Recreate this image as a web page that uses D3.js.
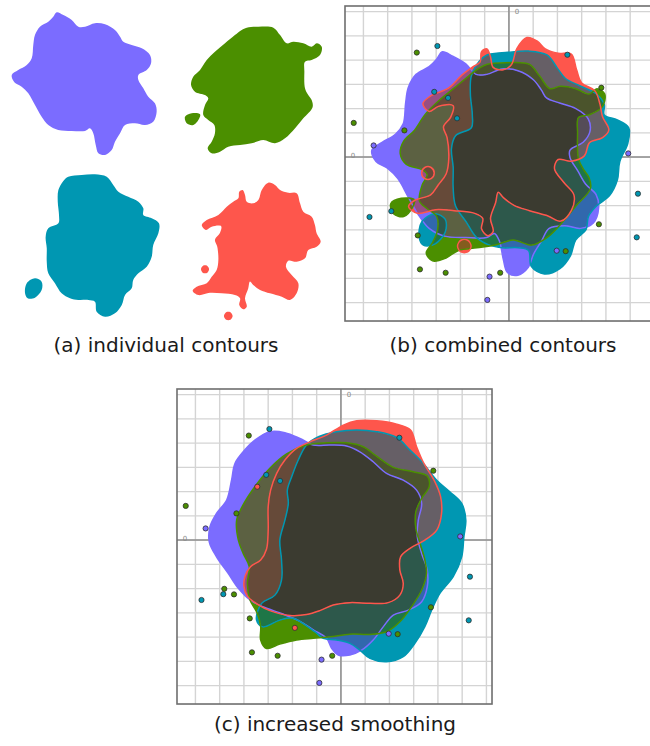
<!DOCTYPE html>
<html>
<head>
<meta charset="utf-8">
<script src="https://cdn.jsdelivr.net/npm/d3@7"></script>
<style>
  html, body { margin: 0; padding: 0; background: #fff; }
  svg { display: block; }
</style>
</head>
<body>
<svg id="fig" width="650" height="746"></svg>
<script>
// ---- groups --------------------------------------------------------------
const groupNames = ["purple", "teal", "green", "red"];
const groupColors = ["#7b6cff", "#0097b2", "#4b8f00", "#fe564c"];

// ---- density contours (grid units), one list of closed rings per group ---
const purpleContour = [[
  [-2.75,4.34],[-2.32,4.16],[-1.78,3.84],[-1.35,3.41],[-0.92,3.41],[-0.28,3.63],[0.37,3.56],
  [1.01,3.19],[1.34,2.76],[1.55,2.44],[2.09,2.23],[2.74,2.01],[3.27,1.58],[3.34,1.05],
  [3.06,0.61],[2.52,0.29],[2.52,-0.03],[2.84,-0.57],[3.16,-1.11],[3.59,-1.54],[3.70,-2.08],
  [3.48,-2.72],[2.95,-2.94],[2.30,-2.83],[1.66,-2.94],[1.34,-3.47],[1.01,-4.01],[0.80,-4.55],
  [0.37,-4.87],[-0.06,-4.76],[-0.23,-4.23],[-0.39,-3.47],[-0.60,-3.15],[-0.92,-3.32],
  [-1.78,-3.32],[-2.65,-3.26],[-3.29,-2.94],[-3.72,-2.40],[-4.15,-1.65],[-4.58,-0.89],
  [-5.01,-0.46],[-5.48,-0.18],[-5.65,0.29],[-5.23,0.61],[-4.68,0.94],[-4.36,1.37],
  [-4.26,2.23],[-4.15,2.87],[-3.83,3.41],[-3.29,3.73],[-2.97,4.05]
]];

const tealContour = [[
  [-0.91,4.21],[-0.05,4.32],[0.81,4.37],[1.57,4.21],[1.99,3.68],[2.32,3.25],[2.96,2.92],
  [3.61,2.60],[3.93,2.17],[3.93,1.74],[4.47,1.53],[4.94,1.21],[4.90,0.56],[4.57,-0.19],
  [4.47,-0.95],[4.15,-1.59],[3.61,-2.02],[3.28,-2.45],[3.18,-2.99],[2.75,-3.42],[2.54,-4.06],
  [2.10,-4.60],[1.46,-4.82],[0.92,-4.50],[0.81,-3.85],[0.38,-3.74],[-0.26,-3.74],[-0.80,-3.63],
  [-1.34,-3.31],[-1.77,-2.66],[-2.20,-2.02],[-2.30,-1.27],[-2.30,-0.41],[-2.37,0.34],
  [-2.20,0.88],[-1.55,1.21],[-1.51,1.74],[-1.59,2.60],[-1.55,3.35],[-1.23,3.94]
], [
  [-3.70,-3.31],[-3.59,-2.66],[-3.06,-2.34],[-2.63,-2.56],[-2.63,-3.10],[-3.06,-3.59],[-3.53,-3.63]
]];

const greenContour = [[
  [-0.89,3.83],[-0.14,3.89],[0.83,3.83],[1.26,3.35],[1.69,2.82],[2.12,2.92],[2.76,2.82],
  [3.30,2.60],[3.63,2.82],[3.95,2.60],[3.84,2.06],[3.30,1.74],[2.87,1.63],[2.83,0.99],
  [2.87,-0.08],[3.08,-0.52],[3.30,-0.84],[3.36,-1.30],[2.76,-2.02],[2.23,-2.66],[1.58,-3.31],
  [0.94,-3.63],[0.18,-3.42],[-0.57,-3.63],[-1.32,-3.74],[-2.08,-3.85],[-2.61,-4.17],
  [-3.15,-4.28],[-3.41,-3.95],[-3.15,-3.53],[-2.94,-2.99],[-2.98,-2.45],[-3.37,-2.13],
  [-3.69,-1.81],[-3.58,-1.16],[-3.37,-0.73],[-3.58,-0.52],[-4.23,-0.30],[-4.48,0.13],
  [-4.34,0.66],[-3.90,1.10],[-3.47,1.74],[-2.94,2.28],[-2.29,2.82],[-1.65,3.35],[-1.21,3.68]
], [
  [-4.87,-1.92],[-4.44,-1.70],[-3.90,-1.76],[-3.97,-2.06],[-4.34,-2.45],[-4.76,-2.34]
]];

const redContour = [[
  [0.74,4.93],[1.17,4.78],[1.50,4.46],[2.03,4.28],[2.57,4.25],[2.79,3.60],[3.00,3.06],
  [3.54,2.74],[3.75,2.20],[3.86,1.66],[4.12,1.12],[3.86,0.80],[3.32,0.59],[3.11,0.05],
  [2.57,-0.17],[2.03,-0.10],[1.88,-0.49],[2.25,-1.03],[2.68,-1.56],[2.57,-2.21],[2.14,-2.64],
  [1.61,-2.43],[0.85,-2.21],[0.21,-1.99],[-0.23,-1.67],[-0.44,-1.45],[-0.55,-1.88],
  [-0.76,-2.53],[-0.65,-3.07],[-0.87,-3.24],[-1.13,-2.96],[-1.08,-2.53],[-1.41,-2.32],
  [-2.26,-2.21],[-3.02,-2.17],[-3.77,-2.32],[-4.14,-2.04],[-3.88,-1.78],[-3.23,-1.56],
  [-2.91,-1.14],[-2.59,-0.70],[-2.48,-0.06],[-2.55,0.80],[-2.70,1.25],[-2.40,1.65],
  [-2.30,2.12],[-2.91,2.09],[-3.28,1.88],[-3.55,2.20],[-3.23,2.52],[-2.48,2.85],[-1.94,3.38],
  [-1.52,3.70],[-1.19,3.92],[-1.13,4.35],[-0.91,4.46],[-0.76,4.14],[-0.65,3.70],[-0.23,3.60],
  [0.10,3.81],[0.32,4.46]
], [
  [-3.08,-0.66],[-3.21,-0.43],[-3.47,-0.43],[-3.60,-0.66],[-3.47,-0.89],[-3.21,-0.89]
], [
  [-1.56,-3.67],[-1.70,-3.43],[-1.98,-3.43],[-2.12,-3.67],[-1.98,-3.91],[-1.70,-3.91]
]];

// ---- contours with a wider smoothing bandwidth -----------------------------
const purpleSmooth = [[
  [-2.93,4.47],[-2.31,4.43],[-1.69,4.19],[-1.14,3.92],[-0.45,3.92],[0.23,3.88],[0.78,3.64],
  [1.33,3.23],[1.88,2.75],[2.57,2.47],[3.12,2.06],[3.33,1.51],[3.19,0.82],[3.15,0.14],
  [3.33,-0.55],[3.56,-1.24],[3.56,-1.92],[3.33,-2.54],[2.78,-2.89],[2.16,-3.09],[1.75,-3.57],
  [1.33,-4.12],[0.85,-4.54],[0.37,-4.74],[-0.11,-4.74],[-0.38,-4.47],[-0.59,-4.05],
  [-1.14,-3.70],[-1.69,-3.35],[-2.39,-3.05],[-3.22,-2.75],[-3.75,-2.47],[-4.23,-1.99],
  [-4.65,-1.37],[-5.13,-0.69],[-5.43,-0.07],[-5.40,0.55],[-5.13,1.10],[-4.71,1.65],
  [-4.51,2.47],[-4.37,3.16],[-3.97,3.71],[-3.55,4.12]
]];

const tealSmooth = [[
  [-1.42,3.92],[-0.93,4.26],[-0.18,4.47],[0.65,4.54],[1.47,4.47],[2.30,4.23],[2.85,3.71],
  [3.40,3.16],[3.95,2.47],[4.49,1.99],[4.98,1.51],[5.15,0.82],[5.07,0.14],[4.98,-0.69],
  [4.63,-1.51],[4.08,-2.20],[3.74,-2.89],[3.46,-3.57],[3.05,-4.26],[2.57,-4.81],[1.88,-5.02],
  [1.20,-4.88],[0.78,-4.54],[0.37,-4.26],[-0.18,-4.12],[-0.73,-4.05],[-1.05,-3.80],
  [-1.98,-3.22],[-2.52,-3.30],[-3.22,-3.58],[-3.48,-3.30],[-3.27,-2.61],[-2.72,-2.27],
  [-2.45,-1.65],[-2.45,-0.82],[-2.52,0.00],[-2.31,0.82],[-2.17,1.51],[-2.21,2.06],
  [-2.03,2.61],[-1.76,3.30]
]];

const greenSmooth = [[
  [-2.24,3.55],[-1.42,3.92],[-0.59,4.01],[0.23,4.01],[0.92,3.85],[1.47,3.46],[2.16,3.00],
  [2.98,2.82],[3.56,2.64],[3.64,2.20],[3.33,1.72],[3.09,1.17],[3.09,0.48],[3.29,-0.21],
  [3.46,-0.82],[3.53,-1.37],[3.33,-2.06],[2.91,-2.75],[2.43,-3.37],[1.88,-3.78],[1.20,-3.89],
  [0.37,-3.88],[-0.45,-3.99],[-1.14,-4.05],[-1.83,-4.12],[-2.52,-4.29],[-3.07,-4.47],
  [-3.31,-4.12],[-3.31,-3.57],[-3.45,-3.02],[-3.75,-2.47],[-3.86,-1.79],[-3.78,-1.10],
  [-4.03,-0.55],[-4.23,0.00],[-4.30,0.82],[-4.00,1.51],[-3.55,2.20],[-2.93,2.96]
]];

const redSmooth = [[
  [0.10,4.74],[0.65,4.92],[1.47,4.92],[2.30,4.78],[2.87,4.54],[3.12,3.85],[3.42,3.16],
  [3.84,2.47],[4.11,1.79],[4.15,1.10],[3.95,0.41],[3.46,0.00],[2.85,-0.34],[2.46,-0.69],
  [2.43,-1.24],[2.57,-1.79],[2.43,-2.27],[1.95,-2.58],[1.20,-2.61],[0.37,-2.58],[-0.32,-2.68],
  [-0.87,-2.91],[-1.42,-3.07],[-2.10,-3.11],[-2.93,-2.91],[-3.45,-2.64],[-3.86,-2.31],
  [-4.00,-1.90],[-3.95,-1.48],[-3.73,-1.10],[-3.31,-0.82],[-3.07,-0.38],[-3.00,0.41],
  [-3.00,1.37],[-2.90,2.06],[-2.65,2.75],[-2.31,3.30],[-1.83,3.78],[-1.28,4.05],[-0.59,4.33]
]];

// ---- observations ----------------------------------------------------------
const obsX = [-3.80,-2.95,-3.08,-3.45,-2.51,-2.14,-6.40,-4.31,-5.58, 2.41, 3.81, 4.92, 5.32, 5.27,
               3.71, 1.97, 2.34, 0.30,-0.36,-0.80,-0.89,-2.61,-3.67,-1.90,-3.76,-3.89,-4.41,-4.85,
              -4.81,-5.75];
const obsY = [ 4.31, 4.58, 2.69, 2.20, 2.44, 1.60, 1.41, 1.10, 0.48, 4.22, 2.86, 0.15,-1.51,-3.31,
              -2.77,-3.86,-3.88,-4.65,-4.77,-4.93,-5.89,-4.77,-4.63,-3.62,-3.23,-2.24,-2.24,-2.23,
              -2.01,-2.47];
const obsGroup = [2,1,1,3,1,1,2,2,0,1,2,0,1,1,
                  2,0,2,0,2,0,0,2,2,3,2,3,2,1,
                  2,1];

// ---- axes ------------------------------------------------------------------
const xDomain = [-6.76, 6.23];
const yDomain = [-6.76, 6.23];
const gridValues = [-6,-5,-4,-3,-2,-1,0,1,2,3,4,5,6];
const axisLabel = "0";
const captions = ["(a) individual contours", "(b) combined contours", "(c) increased smoothing"];

// ---------------------------------------------------------------------------
const svg = d3.select("#fig");
const defs = svg.append("defs");
const unit = 24.25;             // pixels per grid unit in the framed panels
const unitSmall = 15.5;         // pixels per grid unit in panel (a)

const lineFor = (xs, ys) => d3.line()
  .x(d => xs(d[0])).y(d => ys(d[1]))
  .curve(d3.curveCatmullRomClosed.alpha(0.5));
const pathFor = (rings, line) => rings.map(r => line(r)).join("");

// colour of a region covered by several contours: mean colour, darkened
// (per channel) with the number of overlapping contours
const depthShade = [[1, 1, 1], [0.8, 0.8, 0.8], [0.68, 0.66, 0.52], [0.52, 0.48, 0.38]];
// purple + green mixes to an olive tone
const pairTone = { "0,2": "#5c6142" };
function regionColor(members) {
  const key = members.join(",");
  if (pairTone[key]) return pairTone[key];
  const cs = members.map(i => d3.rgb(groupColors[i]));
  const f = depthShade[members.length - 1];
  return d3.rgb(d3.mean(cs, c => c.r) * f[0], d3.mean(cs, c => c.g) * f[1], d3.mean(cs, c => c.b) * f[2]).formatHex();
}

// ---- panel (a): each contour on its own -----------------------------------
const rawContours = [purpleContour, tealContour, greenContour, redContour];
const smoothContours = [purpleSmooth, tealSmooth, greenSmooth, redSmooth];
const aOrigins = [[99.3, 79.5], [82.4, 242], [260.5, 87], [256.8, 259.1]];
const gA = svg.append("g");
rawContours.forEach((rings, i) => {
  const [ox, oy] = aOrigins[i];
  const xs = d3.scaleLinear().domain([0, 1]).range([ox, ox + unitSmall]);
  const ys = d3.scaleLinear().domain([0, 1]).range([oy, oy - unitSmall]);
  gA.append("path").attr("d", pathFor(rings, lineFor(xs, ys)))
    .attr("fill", groupColors[i]).attr("stroke", "none");
});

// ---- framed panels (b) and (c) ------------------------------------------
function framedPanel(left, top, contours, tag) {
  const w = (xDomain[1] - xDomain[0]) * unit;
  const h = (yDomain[1] - yDomain[0]) * unit;
  const xs = d3.scaleLinear().domain(xDomain).range([left, left + w]);
  const ys = d3.scaleLinear().domain(yDomain).range([top + h, top]);
  const g = svg.append("g");

  // grid
  g.append("g").selectAll("line").data(gridValues).join("line")
    .attr("x1", d => xs(d)).attr("x2", d => xs(d)).attr("y1", top).attr("y2", top + h)
    .attr("stroke", "#d4d4d4").attr("stroke-width", 1.4);
  g.append("g").selectAll("line").data(gridValues).join("line")
    .attr("y1", d => ys(d)).attr("y2", d => ys(d)).attr("x1", left).attr("x2", left + w)
    .attr("stroke", "#d4d4d4").attr("stroke-width", 1.4);
  // zero axes
  g.append("line").attr("x1", xs(0)).attr("x2", xs(0)).attr("y1", top).attr("y2", top + h)
    .attr("stroke", "#8e8e8e").attr("stroke-width", 1.5);
  g.append("line").attr("y1", ys(0)).attr("y2", ys(0)).attr("x1", left).attr("x2", left + w)
    .attr("stroke", "#8e8e8e").attr("stroke-width", 1.5);
  g.append("text").attr("x", xs(0) + 8).attr("y", top + 8).attr("text-anchor", "middle")
    .attr("font-family", "DejaVu Sans").attr("font-size", 7).attr("fill", "#8a8a8a").text(axisLabel);
  g.append("text").attr("x", left + 8).attr("y", ys(0) + 1).attr("text-anchor", "middle")
    .attr("font-family", "DejaVu Sans").attr("font-size", 7).attr("fill", "#8a8a8a").text(axisLabel);

  // contour regions, one fill per combination of overlapping groups
  const line = lineFor(xs, ys);
  const ds = contours.map(r => pathFor(r, line));
  ds.forEach((d, i) => defs.append("clipPath").attr("id", `${tag}-clip-${i}`).append("path").attr("d", d));
  const fills = g.append("g");
  for (let m = 1; m < (1 << ds.length); m++) {
    const members = d3.range(ds.length).filter(i => (m >> i) & 1);
    const others = d3.range(ds.length).filter(i => !((m >> i) & 1));
    const mask = defs.append("mask").attr("id", `${tag}-mask-${m}`)
      .attr("maskUnits", "userSpaceOnUse")
      .attr("x", left).attr("y", top).attr("width", w).attr("height", h);
    mask.append("rect").attr("x", left).attr("y", top).attr("width", w).attr("height", h).attr("fill", "#fff");
    others.forEach(j => mask.append("path").attr("d", ds[j]).attr("fill", "#000"));
    let node = fills.append("g").attr("mask", `url(#${tag}-mask-${m})`);
    members.forEach(i => { node = node.append("g").attr("clip-path", `url(#${tag}-clip-${i})`); });
    node.append("rect").attr("x", left).attr("y", top).attr("width", w).attr("height", h)
      .attr("fill", regionColor(members));
  }
  // contour outlines
  const outlines = g.append("g").selectAll("path").data(ds).join("path")
    .attr("d", d => d).attr("fill", "none")
    .attr("stroke", (d, i) => groupColors[i]).attr("stroke-width", 1.5);

  // observations falling outside their own group's contour
  const nodes = outlines.nodes();
  const pts = d3.range(obsX.length).filter(k =>
    !nodes[obsGroup[k]].isPointInFill(new DOMPoint(xs(obsX[k]), ys(obsY[k]))));
  g.append("g").selectAll("circle").data(pts).join("circle")
    .attr("cx", k => xs(obsX[k])).attr("cy", k => ys(obsY[k])).attr("r", 2.6)
    .attr("fill", k => groupColors[obsGroup[k]])
    .attr("stroke", "#2f2f2f").attr("stroke-width", 0.8);

  // frame
  g.append("rect").attr("x", left).attr("y", top).attr("width", w).attr("height", h)
    .attr("fill", "none").attr("stroke", "#6e6e6e").attr("stroke-width", 1.6);
}

framedPanel(345, 6, rawContours, "b");
framedPanel(177, 389, smoothContours, "c");

// ---- captions ---------------------------------------------------------------
const captionPos = [[166, 352], [503, 352], [335, 731]];
svg.append("g").selectAll("text").data(captions).join("text")
  .attr("x", (d, i) => captionPos[i][0]).attr("y", (d, i) => captionPos[i][1])
  .attr("text-anchor", "middle").attr("font-family", "DejaVu Sans").attr("font-size", 20)
  .attr("fill", "#1a1a1a").text(d => d);
</script>
</body>
</html>
